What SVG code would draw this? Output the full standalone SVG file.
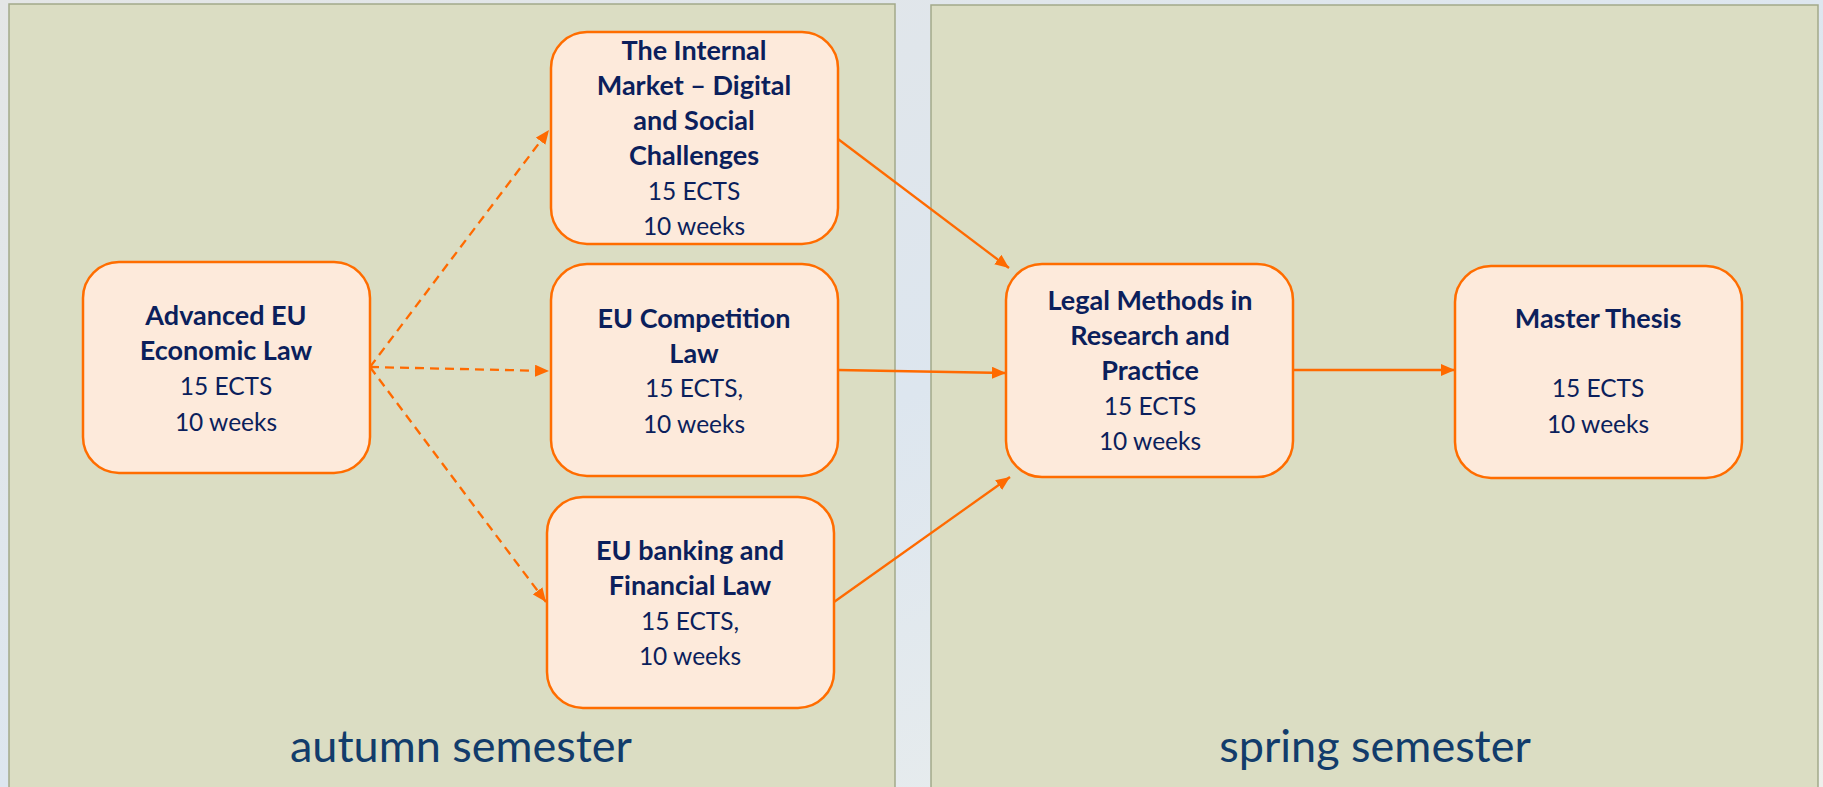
<svg xmlns="http://www.w3.org/2000/svg" width="1823" height="787" viewBox="0 0 1823 787">
<defs>
<linearGradient id="bg" x1="0" y1="0" x2="1" y2="1">
<stop offset="0" stop-color="#e4e6e6"/>
<stop offset="0.5" stop-color="#dde6ef"/>
<stop offset="1" stop-color="#eef0ec"/>
</linearGradient>
<marker id="ah" viewBox="0 0 14 12" refX="14" refY="6" markerWidth="14" markerHeight="12" markerUnits="userSpaceOnUse" orient="auto">
<path d="M0,0 L14,6 L0,12 z" fill="#ff6a00"/>
</marker>
<style>
.panel{fill:#dbddc3;stroke:#a3a98a;stroke-width:1.5}
.node{fill:#fdeadb;stroke:#ff6d00;stroke-width:2.5}
.t{font-family:Lato,"Liberation Sans",sans-serif;font-size:24.5px;fill:#0b1f5c;text-anchor:middle}
.b{font-weight:bold;font-size:27px}
.sem{font-family:Lato,"Liberation Sans",sans-serif;font-size:45px;fill:#123c6b;text-anchor:middle}
.c{stroke:#ff6a00;stroke-width:2.3;fill:none}
.d{stroke-dasharray:9 6}
</style>
</defs>
<rect x="0" y="0" width="1823" height="787" fill="url(#bg)"/>
<g id="panel-autumn">
<rect class="panel" x="9" y="4" width="886" height="790"/>
<text class="sem" x="461" y="762">autumn semester</text>
</g>
<g id="panel-spring">
<rect class="panel" x="931" y="5" width="887" height="790"/>
<text class="sem" x="1375" y="762">spring semester</text>
</g>
<g id="connectors">
<line class="c d" x1="370" y1="367" x2="549" y2="130" marker-end="url(#ah)"/>
<line class="c d" x1="370" y1="367" x2="549" y2="371" marker-end="url(#ah)"/>
<line class="c d" x1="370" y1="367" x2="546" y2="602" marker-end="url(#ah)"/>
<line class="c" x1="838" y1="139" x2="1009" y2="268" marker-end="url(#ah)"/>
<line class="c" x1="838" y1="370" x2="1006" y2="373" marker-end="url(#ah)"/>
<line class="c" x1="834" y1="602" x2="1010" y2="477" marker-end="url(#ah)"/>
<line class="c" x1="1293" y1="370" x2="1455" y2="370" marker-end="url(#ah)"/>
</g>
<g id="node-advanced">
<rect class="node" x="83" y="262" width="287" height="211" rx="36"/>
<text class="t b" x="226" y="325">Advanced EU</text>
<text class="t b" x="226" y="360">Economic Law</text>
<text class="t" x="226" y="395">15 ECTS</text>
<text class="t" x="226" y="431">10 weeks</text>
</g>
<g id="node-internal">
<rect class="node" x="551" y="32" width="287" height="212" rx="36"/>
<text class="t b" x="694" y="60">The Internal</text>
<text class="t b" x="694" y="95">Market – Digital</text>
<text class="t b" x="694" y="130">and Social</text>
<text class="t b" x="694" y="165">Challenges</text>
<text class="t" x="694" y="200">15 ECTS</text>
<text class="t" x="694" y="235">10 weeks</text>
</g>
<g id="node-competition">
<rect class="node" x="551" y="264" width="287" height="212" rx="36"/>
<text class="t b" x="694" y="328">EU Competition</text>
<text class="t b" x="694" y="363">Law</text>
<text class="t" x="694" y="397">15 ECTS,</text>
<text class="t" x="694" y="433">10 weeks</text>
</g>
<g id="node-banking">
<rect class="node" x="547" y="497" width="287" height="211" rx="36"/>
<text class="t b" x="690" y="560">EU banking and</text>
<text class="t b" x="690" y="595">Financial Law</text>
<text class="t" x="690" y="630">15 ECTS,</text>
<text class="t" x="690" y="665">10 weeks</text>
</g>
<g id="node-legal">
<rect class="node" x="1006" y="264" width="287" height="213" rx="36"/>
<text class="t b" x="1150" y="310">Legal Methods in</text>
<text class="t b" x="1150" y="345">Research and</text>
<text class="t b" x="1150" y="380">Practice</text>
<text class="t" x="1150" y="415">15 ECTS</text>
<text class="t" x="1150" y="450">10 weeks</text>
</g>
<g id="node-thesis">
<rect class="node" x="1455" y="266" width="287" height="212" rx="36"/>
<text class="t b" x="1598" y="328">Master Thesis</text>
<text class="t" x="1598" y="397">15 ECTS</text>
<text class="t" x="1598" y="433">10 weeks</text>
</g>
</svg>
